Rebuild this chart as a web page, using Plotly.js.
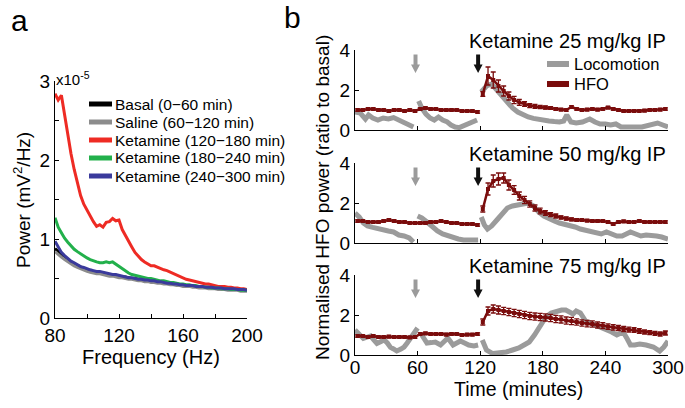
<!DOCTYPE html>
<html><head><meta charset="utf-8">
<script src="https://cdn.plot.ly/plotly-3.0.1.min.js"></script>
<style>html,body{margin:0;padding:0;background:#fff}#chart{width:685px;height:408px}</style>
</head><body><div id="chart"></div>
<script>
// ---------- Panel a: power spectra (units of 1e-5 mV^2/Hz) ----------
const freq = [80,82,84,86,88,90,92,94,96,98,100,102,104,106,108,110,112,114,116,118,120,122,124,126,128,130,132,134,136,138,140,142,144,146,148,150,152,154,156,158,160,162,164,166,168,170,172,174,176,178,180,182,184,186,188,190,192,194,196,198,200];
const basal = [0.88,0.84,0.80,0.76,0.73,0.70,0.68,0.66,0.64,0.62,0.61,0.60,0.59,0.58,0.57,0.56,0.56,0.55,0.54,0.54,0.53,0.52,0.52,0.51,0.50,0.50,0.49,0.48,0.48,0.47,0.47,0.46,0.46,0.45,0.45,0.44,0.44,0.43,0.43,0.42,0.42,0.41,0.41,0.40,0.40,0.40,0.39,0.39,0.39,0.38,0.38,0.37,0.37,0.37,0.37,0.36,0.36,0.36,0.35,0.35,0.35];
const saline = [0.84,0.80,0.77,0.74,0.71,0.68,0.66,0.64,0.62,0.61,0.59,0.58,0.57,0.56,0.56,0.55,0.54,0.53,0.53,0.52,0.51,0.51,0.50,0.49,0.49,0.48,0.47,0.47,0.46,0.46,0.45,0.45,0.44,0.44,0.43,0.43,0.42,0.42,0.41,0.41,0.40,0.40,0.40,0.39,0.39,0.38,0.38,0.38,0.37,0.37,0.37,0.36,0.36,0.36,0.35,0.35,0.35,0.35,0.34,0.34,0.34];
const ket120 = [2.84,2.76,2.82,2.58,2.30,2.08,1.88,1.72,1.55,1.44,1.36,1.28,1.22,1.16,1.18,1.15,1.21,1.22,1.26,1.23,1.24,1.12,1.04,0.96,0.90,0.83,0.78,0.74,0.71,0.69,0.66,0.66,0.64,0.62,0.61,0.60,0.58,0.56,0.54,0.52,0.51,0.49,0.48,0.47,0.46,0.45,0.44,0.43,0.43,0.42,0.41,0.40,0.40,0.40,0.39,0.39,0.38,0.38,0.37,0.37,0.36];
const ket180 = [1.27,1.15,1.08,1.01,0.96,0.91,0.87,0.84,0.81,0.78,0.76,0.74,0.72,0.71,0.70,0.70,0.71,0.70,0.71,0.68,0.65,0.62,0.59,0.57,0.55,0.54,0.53,0.52,0.51,0.50,0.50,0.49,0.48,0.47,0.47,0.46,0.45,0.45,0.44,0.43,0.43,0.42,0.42,0.41,0.41,0.40,0.40,0.39,0.39,0.38,0.38,0.38,0.37,0.37,0.37,0.36,0.36,0.36,0.35,0.35,0.35];
const ket240 = [0.97,0.89,0.83,0.79,0.75,0.72,0.70,0.67,0.65,0.64,0.62,0.61,0.60,0.59,0.59,0.58,0.57,0.56,0.55,0.55,0.54,0.53,0.52,0.51,0.51,0.50,0.49,0.49,0.48,0.48,0.47,0.47,0.46,0.46,0.45,0.44,0.44,0.43,0.43,0.42,0.42,0.41,0.41,0.41,0.40,0.40,0.40,0.39,0.39,0.39,0.38,0.38,0.38,0.37,0.37,0.37,0.37,0.36,0.36,0.36,0.35];
const specNames = ["Basal (0\u221260 min)","Saline (60\u2212120 min)","Ketamine (120\u2212180 min)","Ketamine (180\u2212240 min)","Ketamine (240\u2212300 min)"];
const specColors = ["#000000","#8c8c8c","#ee2b24","#22b04b","#3a3a9c"];
const freqTicks = [80, 120, 160, 200];
const powerTicks = [0, 1, 2, 3];

// ---------- Panel b: normalised HFO power and locomotion ----------
const hfoT = [2.5,7.5,12.5,17.5,22.5,27.5,32.5,37.5,42.5,47.5,52.5,57.5,62.5,67.5,72.5,77.5,82.5,87.5,92.5,97.5,102.5,107.5,112.5,117.5,null,
  122.5,127.5,132.5,137.5,142.5,147.5,152.5,157.5,162.5,167.5,172.5,177.5,182.5,187.5,192.5,197.5,202.5,207.5,212.5,217.5,222.5,227.5,232.5,237.5,242.5,247.5,252.5,257.5,262.5,267.5,272.5,277.5,282.5,287.5,292.5,297.5];
const hfo25 = [1.0,1.0,1.05,1.05,1.0,1.0,0.95,1.0,1.0,0.95,1.0,0.95,1.05,1.1,1.05,1.05,1.0,1.0,1.0,1.0,0.95,0.95,0.95,0.9,null,
  1.8,2.7,2.5,2.2,1.95,1.7,1.5,1.38,1.3,1.22,1.18,1.15,1.12,1.1,1.05,1.02,1.0,1.15,1.05,1.0,1.02,1.05,1.02,1.05,1.12,1.05,1.0,0.95,0.95,0.95,0.95,0.97,1.0,1.0,1.02,1.05];
const err25 = [0.06,0.06,0.06,0.06,0.06,0.06,0.06,0.06,0.06,0.06,0.06,0.06,0.06,0.06,0.06,0.06,0.06,0.06,0.06,0.06,0.06,0.06,0.06,0.06,null,
  0.12,0.45,0.4,0.3,0.25,0.2,0.18,0.15,0.12,0.1,0.1,0.08,0.08,0.07,0.07,0.06,0.06,0.06,0.06,0.06,0.06,0.06,0.06,0.06,0.06,0.06,0.06,0.06,0.06,0.06,0.06,0.06,0.06,0.06,0.06,0.06];
const hfo50 = [1.1,1.1,1.05,1.05,1.05,1.1,1.15,1.1,1.05,1.05,1.0,1.0,1.0,1.0,1.05,1.05,1.1,1.05,1.0,1.0,0.95,0.95,0.95,0.9,null,
  1.7,2.7,3.1,3.2,3.25,2.9,2.65,2.35,2.15,1.95,1.75,1.6,1.5,1.42,1.35,1.28,1.22,1.18,1.15,1.15,1.12,1.1,1.1,1.1,1.05,0.95,1.05,1.08,1.05,1.05,1.1,1.05,1.05,1.05,1.05,1.05];
const err50 = [0.06,0.06,0.06,0.06,0.06,0.06,0.06,0.06,0.06,0.06,0.06,0.06,0.06,0.06,0.06,0.06,0.06,0.06,0.06,0.06,0.06,0.06,0.06,0.06,null,
  0.15,0.3,0.3,0.3,0.25,0.25,0.22,0.2,0.18,0.16,0.15,0.14,0.12,0.1,0.1,0.08,0.08,0.07,0.07,0.06,0.06,0.06,0.06,0.06,0.06,0.06,0.06,0.06,0.06,0.06,0.06,0.06,0.06,0.06,0.06,0.06];
const hfo75 = [0.95,0.95,0.9,0.95,0.9,0.9,0.92,0.9,0.9,0.9,0.88,0.9,1.05,1.08,1.05,1.05,1.05,1.02,1.05,1.05,1.0,1.02,1.02,1.05,null,
  1.65,2.2,2.3,2.25,2.2,2.15,2.1,2.05,2.0,1.95,1.92,1.9,1.88,1.85,1.8,1.78,1.72,1.7,1.65,1.6,1.57,1.55,1.5,1.47,1.42,1.38,1.35,1.3,1.27,1.25,1.2,1.15,1.12,1.08,1.05,1.1];
const err75 = [0.06,0.06,0.06,0.06,0.06,0.06,0.06,0.06,0.06,0.06,0.06,0.06,0.06,0.06,0.06,0.06,0.06,0.06,0.06,0.06,0.06,0.06,0.06,0.06,null,
  0.15,0.2,0.2,0.2,0.18,0.18,0.18,0.18,0.18,0.18,0.18,0.18,0.18,0.18,0.18,0.18,0.18,0.18,0.16,0.16,0.16,0.16,0.15,0.15,0.14,0.14,0.13,0.13,0.12,0.12,0.12,0.1,0.1,0.1,0.1,0.1];

const loco25T = [0,5,10,13,17,22,27,32,37,42,47,52,56,null,61,64,68,72,76,80,84,88,92,96,100,104,108,112,117,null,
  121,126,131,136,141,146,151,156,161,166,171,176,181,186,191,196,200,203,207,212,218,225,230,235,240,245,250,255,260,265,270,275,280,285,290,295,300];
const loco25 = [0.9,0.85,0.55,0.75,0.6,0.5,0.6,0.55,0.62,0.5,0.4,0.3,0.15,null,1.45,1.1,0.8,0.6,0.5,0.65,0.5,0.42,0.25,0.15,0.12,0.2,0.3,0.42,0.5,null,
  1.9,2.2,2.3,2.0,1.65,1.35,1.1,0.9,0.75,0.65,0.58,0.52,0.48,0.45,0.42,0.4,0.45,0.75,0.4,0.35,0.4,0.55,0.4,0.3,0.3,0.25,0.3,0.15,0.15,0.12,0.15,0.15,0.2,0.3,0.35,0.25,0.15];
const loco50T = [0,4,8,12,17,22,27,32,37,42,47,52,56,null,60,64,69,74,79,84,89,94,99,104,109,114,118,null,
  121,124,127,131,136,141,146,151,156,161,166,171,176,181,186,191,196,201,206,211,216,221,226,231,236,241,246,251,256,261,264,269,274,279,284,289,294,300];
const loco50 = [1.5,1.3,1.0,0.85,0.78,0.7,0.65,0.6,0.55,0.4,0.35,0.25,0.05,null,1.35,1.25,1.05,0.8,0.6,0.45,0.35,0.25,0.2,0.15,0.15,0.15,0.15,null,
  1.3,0.9,0.7,0.85,1.15,1.5,1.75,1.85,1.9,1.95,2.0,1.85,1.55,1.35,1.2,1.1,1.0,0.95,0.9,0.8,0.7,0.65,0.6,0.5,0.45,0.55,0.45,0.35,0.35,0.45,0.55,0.45,0.35,0.4,0.4,0.35,0.3,0.2];
const loco75T = [0,4,8,12,15,18,21,25,28,31,34,37,40,44,47,50,53,57,60,null,64,69,73,77,82,86,89,94,98,101,105,109,114,118,null,
  122,126,132,138,145,151,157,162,167,172,177,183,188,193,198,202,206,209,212,216,221,226,231,236,241,246,251,257,261,264,268,273,279,286,292,296,300];
const loco75 = [1.25,1.0,0.83,0.9,0.95,0.75,0.58,0.68,0.75,0.6,0.38,0.3,0.2,0.3,0.4,0.6,0.85,1.15,1.35,null,1.0,0.6,0.62,0.65,0.5,0.7,0.85,0.5,0.6,0.7,0.6,0.5,0.45,0.5,null,
  0.75,0.25,0.07,0.1,0.15,0.25,0.35,0.5,0.65,1.0,1.4,1.9,2.1,2.2,2.25,2.25,2.15,2.05,2.2,2.1,1.7,1.6,1.5,1.4,1.25,1.15,1.0,1.15,0.8,0.5,0.5,0.55,0.5,0.4,0.2,0.4,0.7];
const doseTitles = ["Ketamine 25 mg/kg IP","Ketamine 50 mg/kg IP","Ketamine 75 mg/kg IP"];
const seriesNamesB = ["Locomotion", "HFO"];
const timeTicks = [0, 60, 120, 180, 240, 300];
const ratioTicks = [0, 2, 4];
const injectionTimes = [58, 118];   // saline (grey arrow) and ketamine (black arrow)

// ---------- helpers for paper coordinates ----------
const W = 685, H = 408;
const px = x => x / W, py = y => 1 - y / H;
const FONT = "Liberation Sans, Arial, Helvetica, sans-serif";
const HFO_COL = "#7a0c0c", LOCO_COL = "#9b9b9b";

const traces = [];
[basal, saline, ket120, ket180, ket240].forEach((s, i) => {
  traces.push({x: freq, y: s, type: "scatter", mode: "lines", name: specNames[i], showlegend: false,
    line: {color: specColors[i], width: 3}, xaxis: "x", yaxis: "y"});
});

const locoSets = [[loco25T, loco25], [loco50T, loco50], [loco75T, loco75]];
const hfoSets = [[hfo25, err25], [hfo50, err50], [hfo75, err75]];
for (let k = 0; k < 3; k++) {
  const xa = "x" + (k + 2), ya = "y" + (k + 2);
  traces.push({x: locoSets[k][0], y: locoSets[k][1], type: "scatter", mode: "lines", name: seriesNamesB[0],
    line: {color: LOCO_COL, width: 5}, xaxis: xa, yaxis: ya, showlegend: false, connectgaps: false});
  traces.push({x: hfoT, y: hfoSets[k][0], type: "scatter", mode: "lines+markers", name: seriesNamesB[1],
    line: {color: HFO_COL, width: 2.5}, marker: {color: HFO_COL, size: 4, symbol: "square"},
    error_y: {type: "data", array: hfoSets[k][1], visible: true, color: HFO_COL, thickness: 1.3, width: 2.5},
    xaxis: xa, yaxis: ya, showlegend: false, connectgaps: false});
}

const axisBase = {showgrid: false, zeroline: false, showline: true, linecolor: "#000", linewidth: 1,
  ticks: "inside", ticklen: 4, tickcolor: "#000", tickfont: {family: FONT, size: 19, color: "#000"}};

const layout = {
  width: W, height: H, margin: {l: 0, r: 0, t: 0, b: 0}, paper_bgcolor: "#fff", plot_bgcolor: "rgba(0,0,0,0)",
  font: {family: FONT, color: "#000"}, showlegend: false,
  xaxis: Object.assign({}, axisBase, {domain: [px(55), px(247)], range: [80, 200], anchor: "y",
    tickmode: "array", tickvals: freqTicks,
    minor: {tickmode: "linear", tick0: 80, dtick: 20, ticks: "inside", ticklen: 4, tickcolor: "#000", showgrid: false}}),
  yaxis: Object.assign({}, axisBase, {domain: [py(318), py(81)], range: [0, 3], anchor: "x",
    tickmode: "array", tickvals: powerTicks,
    minor: {tickmode: "linear", tick0: 0, dtick: 0.5, ticks: "inside", ticklen: 4, tickcolor: "#000", showgrid: false}}),
  annotations: [], shapes: []
};
const bZero = [130, 243, 355];
for (let k = 0; k < 3; k++) {
  const n = k + 2;
  layout["xaxis" + n] = Object.assign({}, axisBase, {domain: [px(355), px(668)], range: [0, 300], anchor: "y" + n,
    tickmode: "array", tickvals: timeTicks, showticklabels: k === 2, ticklabelstandoff: -5});
  layout["yaxis" + n] = Object.assign({}, axisBase, {domain: [py(bZero[k]), py(bZero[k] - 80)], range: [0, 4], anchor: "x" + n,
    tickmode: "array", tickvals: ratioTicks});
  layout.annotations.push({xref: "paper", yref: "paper", x: px(668), y: py(bZero[k] - 89), xanchor: "right", yanchor: "middle",
    text: doseTitles[k], showarrow: false, font: {family: FONT, size: 20, color: "#000"}});
  // injection arrows (shaft + head) drawn as shapes in data coordinates of each subplot
  injectionTimes.forEach((t, j) => {
    const hw = 1.9, headW = 4.3;   // half widths in minutes
    layout.shapes.push({type: "path", xref: "x" + n, yref: "y" + n, line: {width: 0},
      fillcolor: j === 0 ? "#9b9b9b" : "#111111",
      path: `M${t-hw},3.78 L${t+hw},3.78 L${t+hw},3.27 L${t+headW},3.27 L${t},2.85 L${t-headW},3.27 L${t-hw},3.27 Z`});
  });
}
// panel a legend (manual)
const legA_rows = [104, 122, 140, 158, 176];
specNames.forEach((nm, i) => {
  layout.shapes.push({type: "line", xref: "paper", yref: "paper", x0: px(89), x1: px(112), y0: py(legA_rows[i]), y1: py(legA_rows[i]),
    line: {color: specColors[i], width: 5}});
  layout.annotations.push({xref: "paper", yref: "paper", x: px(114), y: py(legA_rows[i]), xanchor: "left", yanchor: "middle",
    text: nm, showarrow: false, borderpad: 0, font: {family: FONT, size: 15.5, color: "#000"}});
});
// panel b legend (manual)
const legB_rows = [64, 84];
const legB_cols = [LOCO_COL, HFO_COL];
seriesNamesB.forEach((nm, i) => {
  layout.shapes.push({type: "line", xref: "paper", yref: "paper", x0: px(547), x1: px(569), y0: py(legB_rows[i]), y1: py(legB_rows[i]),
    line: {color: legB_cols[i], width: 6}});
  layout.annotations.push({xref: "paper", yref: "paper", x: px(573), y: py(legB_rows[i]), xanchor: "left", yanchor: "middle",
    text: nm, showarrow: false, borderpad: 0, font: {family: FONT, size: 16.5, color: "#000"}});
});
const C = {xanchor: "center", yanchor: "middle", showarrow: false, xref: "paper", yref: "paper"};
layout.annotations.push(
  Object.assign({}, C, {x: px(19), y: py(20), text: "a", font: {family: FONT, size: 30}}),
  Object.assign({}, C, {x: px(292), y: py(18), text: "b", font: {family: FONT, size: 30}}),
  Object.assign({}, C, {x: px(54), y: py(78), xanchor: "left", text: "x10<sup>-5</sup>", font: {family: FONT, size: 15}}),
  Object.assign({}, C, {x: px(22), y: py(200), textangle: -90, text: "Power (mV<sup>2</sup>/Hz)", font: {family: FONT, size: 19}}),
  Object.assign({}, C, {x: px(151), y: py(357), text: "Frequency (Hz)", font: {family: FONT, size: 20}}),
  Object.assign({}, C, {x: px(518), y: py(389), text: "Time (minutes)", font: {family: FONT, size: 19.5}}),
  Object.assign({}, C, {x: px(322), y: py(198), textangle: -90, text: "Normalised HFO power (ratio to basal)", font: {family: FONT, size: 19}})
);

Plotly.newPlot("chart", traces, layout, {staticPlot: true, displayModeBar: false});
</script></body></html>
